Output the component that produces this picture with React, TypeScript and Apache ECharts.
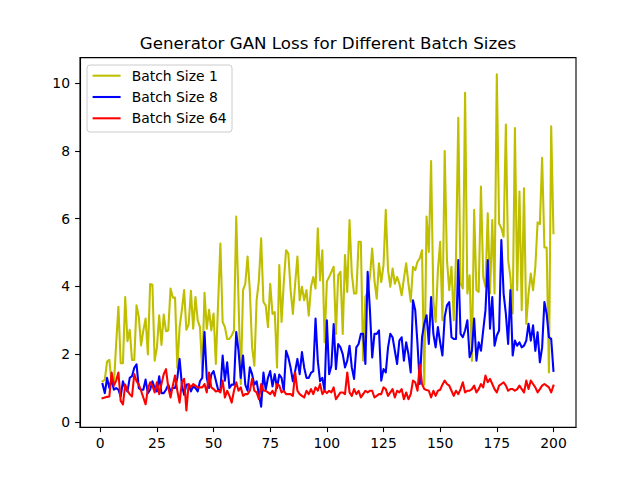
import React, { useEffect, useRef } from "react";
import * as echarts from "echarts";

const batchSize1 = [
  1.2, 1.25, 1.78, 1.83, 1.15, 1.1, 2.3, 3.4, 1.73, 1.73,
  3.69, 2.38, 2.72, 1.83, 1.83, 3.44, 3.1, 2.26, 2.7, 3.05,
  1.99, 4.07, 4.05, 1.81, 2.2, 3.15, 2.27, 3.17, 2.68, 2.7,
  3.94, 3.67, 3.67, 1.59, 2.8, 3.3, 3.89, 2.72, 2.88, 3.87,
  2.75, 3.69, 3.0, 2.8, 1.51, 3.81, 2.75, 3.31, 2.7, 3.2,
  1.71, 3.5, 5.27, 2.95, 2.8, 2.45, 2.45, 2.55, 2.7, 6.06,
  3.6, 1.12, 3.89, 4.08, 4.88, 3.89, 2.2, 1.66, 3.59, 4.18,
  5.42, 3.54, 3.44, 2.8, 4.08, 3.19, 3.24, 1.61, 4.63, 2.95,
  4.13, 5.07, 4.97, 3.89, 3.19, 4.08, 4.88, 3.59, 3.99, 3.59,
  3.89, 3.14, 3.99, 4.28, 3.94, 5.72, 4.18, 5.07, 2.35, 4.15,
  4.28, 4.43, 4.58, 2.6, 4.33, 4.43, 2.6, 4.93, 3.84, 5.96,
  4.38, 3.79, 3.79, 5.32, 5.32, 1.81, 3.69, 3.84, 4.28, 5.12,
  4.18, 3.64, 4.68, 4.13, 4.63, 6.26, 4.48, 3.99, 4.53, 4.08,
  4.28, 4.08, 3.74, 4.23, 4.68, 4.08, 3.55, 4.58, 4.48, 4.73,
  4.83, 5.07, 1.1, 6.06, 5.02, 7.7, 3.59, 2.95, 4.48, 5.32,
  3.0, 8.0, 4.78, 3.89, 4.58, 3.0, 4.88, 8.98, 4.08, 3.94,
  9.72, 3.79, 4.33, 1.8, 6.26, 3.89, 3.84, 6.95, 4.28, 3.99,
  6.16, 3.79, 5.96, 3.79, 10.26, 5.86, 5.72, 5.47, 8.78, 4.78,
  4.28, 3.2, 8.68, 3.89, 6.8, 3.3, 6.9, 2.9, 3.79, 4.38,
  3.89, 4.58, 5.89, 5.84, 7.8, 5.15, 5.15, 1.46, 8.73, 5.57,
];

const batchSize8 = [
  1.12, 0.85, 1.3, 1.0, 1.25, 0.95, 1.0, 0.95, 0.75, 1.2,
  1.0, 0.9, 1.3, 1.35, 1.6, 1.7, 1.0, 0.95, 0.95, 1.25,
  0.85, 0.95, 1.2, 1.0, 0.9, 1.35, 0.85, 0.85, 0.95, 1.1,
  0.9, 1.0, 1.0, 1.3, 1.86, 1.1, 0.8, 1.1, 1.1, 0.9,
  1.05, 1.0, 0.9, 1.2, 1.3, 2.65, 1.3, 1.0, 1.4, 1.5,
  1.22, 0.95, 0.92, 1.96, 1.22, 1.76, 1.0, 1.1, 1.1, 2.65,
  2.1, 1.3, 1.96, 1.1, 0.92, 1.61, 1.41, 1.1, 1.2, 0.8,
  0.45, 1.46, 0.95, 1.3, 1.5, 1.05, 1.41, 1.0, 1.4, 1.3,
  0.92, 2.1, 1.9, 1.6, 1.2, 1.5, 1.86, 1.41, 2.06, 1.6,
  1.3, 1.3, 1.45, 1.5, 3.05, 1.8, 1.2, 1.3, 0.92, 3.0,
  1.41, 1.66, 2.89, 1.56, 2.3, 2.2, 2.0, 1.61, 1.81, 2.25,
  1.61, 1.27, 2.2, 2.3, 2.6, 2.6, 1.71, 4.43, 3.3, 1.9,
  2.6, 2.6, 2.7, 1.22, 1.56, 1.46, 2.2, 2.6, 2.5, 2.1,
  1.71, 2.4, 2.5, 1.81, 2.35, 2.0, 1.46, 3.59, 3.3, 2.3,
  1.12, 2.5, 2.9, 3.15, 2.3, 3.69, 2.6, 2.2, 2.8, 2.35,
  1.96, 3.1, 3.44, 3.54, 2.5, 2.45, 2.45, 4.78, 2.6, 2.5,
  2.7, 3.0, 1.91, 2.1, 3.05, 1.81, 2.35, 2.1, 2.7, 3.3,
  4.78, 2.75, 3.69, 2.25, 2.55, 2.7, 5.37, 3.79, 3.19, 2.3,
  3.89, 1.96, 2.4, 2.25, 2.35, 2.2, 2.25, 2.4, 2.9, 2.4,
  2.85, 2.1, 2.65, 1.76, 2.2, 3.54, 3.19, 2.5, 2.45, 1.51,
];

const batchSize64 = [
  0.7, 0.72, 0.74, 0.75, 1.46, 1.07, 1.22, 1.46, 0.62, 0.52,
  1.1, 0.92, 0.82, 0.75, 1.41, 1.2, 1.1, 0.92, 0.72, 0.52,
  0.97, 1.17, 1.07, 0.87, 1.17, 0.82, 1.12, 1.41, 1.56, 1.02,
  0.72, 1.07, 1.37, 0.92, 0.57, 1.17, 1.27, 0.34, 1.12, 1.02,
  1.12, 1.07, 1.02, 1.02, 1.02, 1.12, 0.87, 1.46, 1.02, 0.97,
  0.9, 0.92, 0.87, 1.22, 0.72, 0.92, 0.77, 0.57, 0.92, 1.17,
  0.92, 1.02, 0.77, 0.82, 0.82, 0.92, 1.27, 0.92, 0.87, 0.67,
  1.12, 0.92, 0.92, 0.87, 0.82, 0.92, 0.77, 1.12, 1.07, 0.87,
  0.92, 0.82, 0.82, 0.82, 0.77, 1.46, 0.92, 0.82, 0.77, 0.72,
  0.92, 0.82, 0.97, 0.82, 1.02, 0.92, 1.12, 0.82, 0.92, 0.85,
  0.92, 0.87, 1.02, 0.67, 0.77, 0.87, 0.87, 0.82, 1.46, 0.87,
  0.77, 0.97, 0.82, 0.92, 0.72, 0.82, 0.92, 0.87, 0.92, 0.92,
  0.72, 0.77, 0.82, 0.82, 1.02, 0.97, 0.77, 0.87, 0.97, 0.72,
  0.92, 0.87, 0.97, 0.67, 0.87, 0.67, 0.82, 1.22, 1.17, 0.92,
  1.7, 1.12, 0.97, 0.94, 0.92, 0.72, 0.92, 0.77, 0.92, 0.95,
  1.1, 1.22, 1.12, 1.07, 0.92, 0.77, 0.92, 0.82, 0.97, 1.17,
  0.87, 0.92, 0.92, 0.97, 1.07, 0.87, 0.97, 1.12, 1.02, 1.37,
  1.17, 1.27, 1.12, 0.97, 0.87, 1.07, 1.12, 1.17, 1.07, 0.92,
  0.97, 0.97, 0.92, 0.97, 1.07, 0.97, 0.87, 1.22, 0.97, 1.22,
  1.12, 1.02, 0.87, 0.97, 1.07, 1.12, 1.07, 1.02, 0.87, 1.07,
];

const xTicks = [0, 25, 50, 75, 100, 125, 150, 175, 200];
const yTicks = [0, 2, 4, 6, 8, 10];
const seriesNames = ["Batch Size 1", "Batch Size 8", "Batch Size 64"];
const seriesColors = ["#bfbf00", "#0000ff", "#ff0000"];
const titleText = "Generator GAN Loss for Different Batch Sizes";

export default function App() {
  const ref = useRef<HTMLDivElement>(null);

  useEffect(() => {
    if (!ref.current) return;
    const chart = echarts.init(ref.current, null, { renderer: "svg" });
    const allSeries = [batchSize1, batchSize8, batchSize64];
    const n = batchSize1.length;
    const xMin = 1 - 0.05 * (n - 1);
    const xMax = n + 0.05 * (n - 1);
    const flat = allSeries.flat();
    const lo = Math.min(...flat);
    const hi = Math.max(...flat);
    const yMin = lo - 0.05 * (hi - lo);
    const yMax = hi + 0.05 * (hi - lo);

    const font = "DejaVu Sans";
    const fs = 13.9;

    const legendX = 87;
    const legendY = 65;
    const rowY = [75.7, 97, 118.3];

    const legendChildren: any[] = [
      {
        type: "rect",
        shape: { x: legendX, y: legendY, width: 145, height: 67, r: 3 },
        style: { fill: "rgba(255,255,255,0.8)", stroke: "#cccccc", lineWidth: 1 },
      },
    ];
    seriesNames.forEach((name, i) => {
      legendChildren.push({
        type: "line",
        shape: { x1: 92.6, y1: rowY[i], x2: 120.6, y2: rowY[i] },
        style: { stroke: seriesColors[i], lineWidth: 2.08 },
      });
      legendChildren.push({
        type: "text",
        x: 131.7,
        y: rowY[i],
        style: {
          text: name,
          fill: "#000",
          font: `${fs}px "${font}"`,
          textAlign: "left",
          textVerticalAlign: "middle",
        },
      });
    });

    chart.setOption({
      animation: false,
      backgroundColor: "#ffffff",
      grid: {
        left: 80,
        top: 57.6,
        right: 64,
        bottom: 52.8,
        show: true,
        borderColor: "#000",
        borderWidth: 1.1,
        backgroundColor: "transparent",
      },
      xAxis: {
        type: "value",
        min: xMin,
        max: xMax,
        splitLine: { show: false },
        axisLine: { show: true, onZero: false, lineStyle: { color: "#000", width: 1.1 } },
        axisTick: {
          show: true,
          length: 4.9,
          lineStyle: { color: "#000", width: 1.1 },
          customValues: xTicks,
        },
        axisLabel: {
          color: "#000",
          fontFamily: font,
          fontSize: fs,
          margin: 9,
          customValues: xTicks,
        },
      },
      yAxis: {
        type: "value",
        min: yMin,
        max: yMax,
        splitLine: { show: false },
        axisLine: { show: true, onZero: false, lineStyle: { color: "#000", width: 1.1 } },
        axisTick: {
          show: true,
          length: 4.9,
          lineStyle: { color: "#000", width: 1.1 },
          customValues: yTicks,
        },
        axisLabel: {
          color: "#000",
          fontFamily: font,
          fontSize: fs,
          margin: 10,
          customValues: yTicks,
        },
      },
      series: allSeries.map((vals, i) => ({
        name: seriesNames[i],
        type: "line",
        data: vals.map((v, j) => [j + 1, v]),
        showSymbol: false,
        symbol: "none",
        silent: true,
        lineStyle: { color: seriesColors[i], width: 2.08, join: "round", cap: "square" },
        itemStyle: { color: seriesColors[i] },
        z: 2 + i,
      })),
      graphic: [
        {
          type: "text",
          x: 328,
          y: 43.5,
          style: {
            text: titleText,
            fill: "#000",
            font: `16.67px "${font}"`,
            textAlign: "center",
            textVerticalAlign: "middle",
          },
          z: 10,
        },
        {
          type: "group",
          z: 10,
          children: legendChildren,
        },
      ],
    });

    return () => {
      chart.dispose();
    };
  }, []);

  return (
    <div
      ref={ref}
      style={{ position: "fixed", left: 0, top: 0, width: 640, height: 480, background: "#fff" }}
    />
  );
}
